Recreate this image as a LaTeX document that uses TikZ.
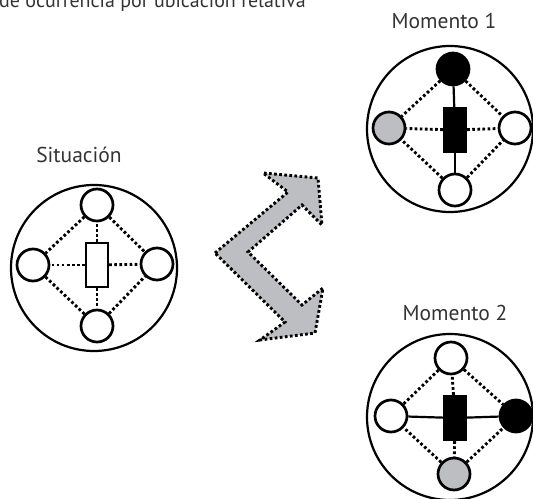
\documentclass[tikz,border=0pt]{standalone}
\usepackage{fontspec}
\setmainfont{PT Sans}
\definecolor{txtcol}{rgb}{0.2,0.2,0.2}
\definecolor{fillgray}{rgb}{0.74,0.745,0.755}
\tikzset{
  ring/.style={draw,circle,line width=2.2bp,minimum size=166bp,inner sep=0pt},
  spot/.style={draw,circle,line width=2.7bp,minimum size=32bp,inner sep=0pt,fill=white},
  actor/.style={draw,rectangle,line width=2.3bp,minimum width=22bp,minimum height=44bp,inner sep=0pt,fill=white},
  dotlink/.style={line width=2.9bp,dash pattern=on 2.7bp off 2.4bp},
  link/.style={line width=2.2bp},
  caption/.style={font=\fontsize{21.5bp}{24bp}\selectfont,text=txtcol,inner sep=0pt},
}
\begin{document}
\begin{tikzpicture}[x=1bp,y=-1bp,line join=miter]
\useasboundingbox (0,0) rectangle (533,499);
%%
  % Title
  \node[caption,font=\fontsize{20bp}{24bp}\selectfont,anchor=base west] (title) at (-1,7.5) {de ocurrencia por ubicación relativa};
%
  % Node: situacion
\begin{scope}
  \node[ring] (s) at (94,268) {};
  \node[caption] (slabel) at (79,155) {Situación};
  \node[actor] (sr) at (97,265) {};
  \node[spot] (st) at (97,205) {};
  \node[spot] (sl) at (33,265) {};
  \node[spot] (sx) at (157,264) {};
  \node[spot] (sb) at (97,326) {};
  \draw[dotlink] (sr) -- (st);
  \draw[dotlink] (sr) -- (sb);
  \draw[dotlink] (sr) -- (sl);
  \draw[dotlink] (sr) -- (sx);
  \draw[dotlink] (st) -- (sl);
  \draw[dotlink] (st) -- (sx);
  \draw[dotlink] (sb) -- (sl);
  \draw[dotlink] (sb) -- (sx);
\end{scope}
%
  % Node: momento 1
\begin{scope}
  \node[ring] (m) at (450,129) {};
  \node[caption] (mlabel) at (444,21) {Momento 1};
  \node[actor,fill=black] (mr) at (455,130) {};
  \node[spot,fill=black] (mt) at (453,69) {};
  \node[spot,fill=fillgray] (ml) at (389,128) {};
  \node[spot] (mx) at (515,128) {};
  \node[spot] (mb) at (455,190) {};
  \draw[link] (mr) -- (mt);
  \draw[link] (mr) -- (mb);
  \draw[dotlink] (mr) -- (ml);
  \draw[dotlink] (mr) -- (mx);
  \draw[dotlink] (mt) -- (ml);
  \draw[dotlink] (mt) -- (mx);
  \draw[dotlink] (mb) -- (ml);
  \draw[dotlink] (mb) -- (mx);
\end{scope}
%
  % Node: momento 2
\begin{scope}
  \node[ring] (n) at (450,417) {};
  \node[caption] (nlabel) at (455,313) {Momento 2};
  \node[actor,fill=black] (nr) at (455,418) {};
  \node[spot] (nt) at (451,358) {};
  \node[spot] (nl) at (391,416) {};
  \node[spot,fill=black] (nx) at (516,416) {};
  \node[spot,fill=fillgray] (nb) at (454,474) {};
  \draw[link] (nr) -- (nl);
  \draw[link] (nr) -- (nx);
  \draw[dotlink] (nr) -- (nt);
  \draw[dotlink] (nr) -- (nb);
  \draw[dotlink] (nt) -- (nl);
  \draw[dotlink] (nt) -- (nx);
  \draw[dotlink] (nb) -- (nl);
  \draw[dotlink] (nb) -- (nx);
\end{scope}
%
  % Edge: situacion -> momento 1, momento 2
  \draw[dotlink,fill=fillgray] (215,253) -- (288,192) -- (263,173) -- (318,178)
    -- (322,225) -- (302,205) -- (248,252) -- (302,305) -- (323,288)
    -- (315,333) -- (260,340) -- (285,322) -- cycle;
%
\end{tikzpicture}
\end{document}
